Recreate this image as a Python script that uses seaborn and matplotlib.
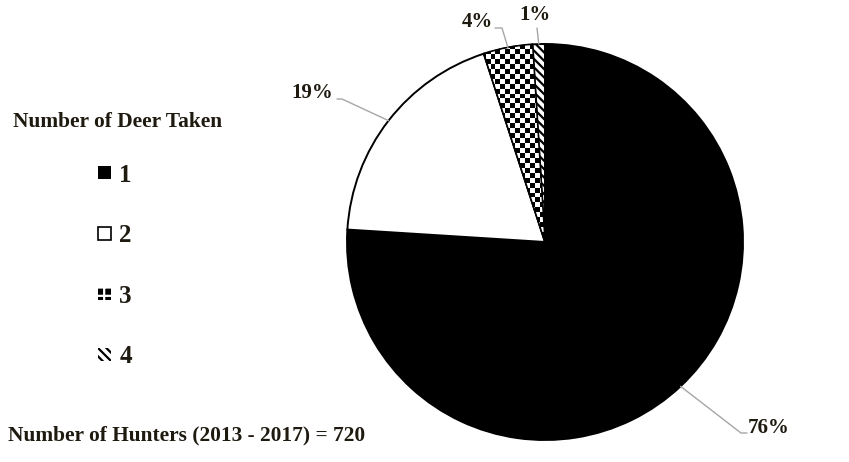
import numpy as np
import matplotlib
matplotlib.use("Agg")
import matplotlib.pyplot as plt
import seaborn as sns
from matplotlib.patches import Patch, Wedge

# ---- data ----
categories = ["1", "2", "3", "4"]
percents = [76, 19, 4, 1]
pct_labels = ["76%", "19%", "4%", "1%"]
legend_title = "Number of Deer Taken"
footer = "Number of Hunters (2013 - 2017) = 720"

sns.set_theme(style="white")
plt.rcParams["font.family"] = ["Liberation Serif", "DejaVu Serif"]
plt.rcParams["hatch.linewidth"] = 1.6
TXT = "#1f1a10"

W, H = 849, 462
fig = plt.figure(figsize=(W / 100, H / 100), dpi=100)
fig.patch.set_facecolor("white")
ax = fig.add_axes([0, 0, 1, 1])

def Y(y):  # image-row to data y
    return H - y

cx, cy, R = 545, Y(242), 198
faces = ["black", "white", "white", "white"]
hatches = [None, None, None, "\\\\\\\\"]
wedges, _ = ax.pie(percents, startangle=90, counterclock=False, center=(cx, cy),
                   radius=R, colors=faces, frame=True,
                   wedgeprops=dict(edgecolor="black", linewidth=1.4))
ax.set_xlim(0, W)
ax.set_ylim(0, H)
ax.set_aspect("equal")
ax.axis("off")
for w, h in zip(wedges, hatches):
    if h:
        w.set_hatch(h)
        w.set_edgecolor("black")

# checkerboard fill for wedge 3
w3 = wedges[2]
n = 5.0
xs = np.arange(cx - R, cx + R, n)
ys = np.arange(cy - R, cy + R, n)
board = (np.add.outer(np.arange(len(ys)), np.arange(len(xs))) % 2).astype(float)
im = ax.imshow(board, cmap="gray", extent=(cx - R, cx + R, cy - R, cy + R),
               origin="lower", interpolation="nearest", zorder=w3.get_zorder() + 0.1)
im.set_clip_path(w3)
ax.add_patch(Wedge((cx, cy), R, w3.theta1, w3.theta2, facecolor="none",
                   edgecolor="black", linewidth=1.0, zorder=w3.get_zorder() + 0.2))
ax.set_xlim(0, W)
ax.set_ylim(0, H)

# labels with leader lines
def edge(w):
    a = np.deg2rad((w.theta1 + w.theta2) / 2)
    return cx + R * np.cos(a), cy + R * np.sin(a)

lab_kw = dict(fontsize=15, fontweight="bold", color=TXT)
line_kw = dict(color="#a6a6a6", linewidth=1.0)
# 76%
ex, ey = edge(wedges[0])
ax.plot([ex, 741, 747], [ey, Y(433), Y(433)], **line_kw)
ax.text(748, Y(428), pct_labels[0], ha="left", va="center", **lab_kw)
# 19%
ex, ey = edge(wedges[1])
ax.plot([ex, 342, 337], [ey, Y(99), Y(99)], **line_kw)
ax.text(333, Y(93), pct_labels[1], ha="right", va="center", **lab_kw)
# 4%
ex, ey = edge(wedges[2])
ax.plot([ex, 502, 495], [ey, Y(28), Y(28)], **line_kw)
ax.text(493, Y(22), pct_labels[2], ha="right", va="center", **lab_kw)
# 1%
ex, ey = edge(wedges[3])
ax.plot([ex, 537], [ey, Y(28)], **line_kw)
ax.text(535, Y(15), pct_labels[3], ha="center", va="center", **lab_kw)

# legend
handles = [Patch(facecolor="black", edgecolor="black", linewidth=0),
           Patch(facecolor="white", edgecolor="black", linewidth=1.2),
           Patch(facecolor="black", edgecolor="white", linewidth=0, hatch="++"),
           Patch(facecolor="white", edgecolor="black", linewidth=0, hatch="\\\\\\\\")]
leg = ax.legend(handles, categories, loc="center left",
                bbox_to_anchor=(98 / W, 1 - 266 / H), bbox_transform=fig.transFigure,
                frameon=False, borderpad=0, borderaxespad=0,
                handlelength=0.5, handleheight=0.42, handletextpad=0.35,
                labelspacing=1.50, prop=dict(size=18, weight="bold"))
for t in leg.get_texts():
    t.set_color(TXT)

fig.text(13 / W, 1 - 122 / H, legend_title, ha="left", va="center",
         fontsize=15.4, fontweight="bold", color=TXT)
fig.text(8 / W, 1 - 435 / H, footer, ha="left", va="center",
         fontsize=15.4, fontweight="bold", color=TXT)

fig.savefig("out.png", dpi=100, facecolor="white")
